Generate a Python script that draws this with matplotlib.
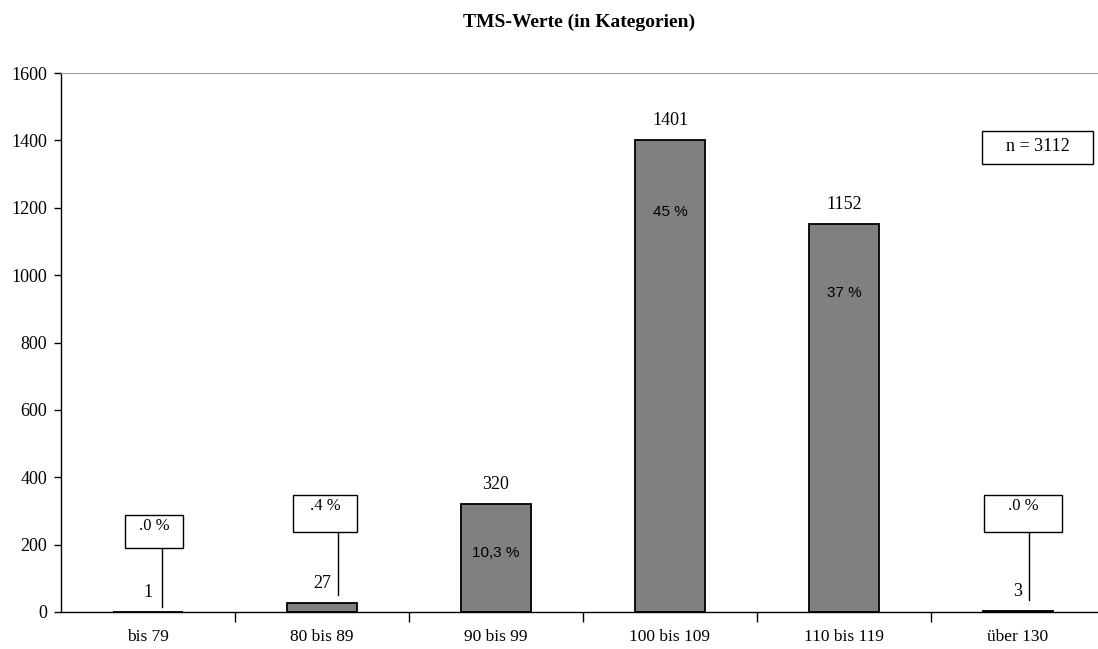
#!/usr/bin/env python3
# TMS-Werte bar chart

import numpy as np
import matplotlib.pyplot as plt
from matplotlib.patches import Rectangle

categories = ["bis 79", "80 bis 89", "90 bis 99", "100 bis 109", "110 bis 119", "über 130"]
counts = [1, 27, 320, 1401, 1152, 3]
pct_labels = [".0 %", ".4 %", "10,3 %", "45 %", "37 %", ".0 %"]
n_total = 3112

plt.rcParams["font.family"] = ["Liberation Serif", "DejaVu Serif"]


def plot(ax):
    x = np.arange(len(categories))
    ax.bar(x, counts, width=0.40, color="#808080", edgecolor="black", linewidth=1.3)

    ax.set_xlim(-0.5, 5.46)
    ax.set_ylim(0, 1600)
    ax.set_yticks(np.arange(0, 1601, 200))
    ax.set_xticks(x)
    ax.set_xticklabels(categories)
    ax.set_xticks(np.arange(0.5, 5.5, 1), minor=True)
    ax.tick_params(axis="x", which="major", length=0, pad=12, labelsize=12.5)
    ax.tick_params(axis="x", which="minor", length=7, width=1, direction="out")
    ax.tick_params(axis="y", length=5, width=1, labelsize=13, pad=5)

    ax.spines["right"].set_visible(False)
    ax.spines["top"].set_color("#a0a0a0")
    ax.spines["left"].set_linewidth(1)
    ax.spines["bottom"].set_linewidth(1)

    # count labels above bars
    for xi, c in zip(x, counts):
        ax.text(xi, c + 58, str(c), ha="center", va="center", fontsize=13)

    # percentage labels inside the big bars
    inside_y = {2: 175, 3: 1187, 4: 947}
    for i, yy in inside_y.items():
        ax.text(x[i], yy, pct_labels[i], ha="center", va="center", fontsize=11,
                family=["Liberation Sans", "DejaVu Sans"])

    # callout boxes for the tiny bars: (index, box x-offset, box width, y0, y1, line x-offset, line bottom)
    callouts = [
        (0, 0.034, 0.333, 190, 288, 0.08, 15),
        (1, 0.02, 0.368, 237, 347, 0.09, 50),
        (5, 0.03, 0.448, 237, 347, 0.065, 36),
    ]
    for i, bx, bw, y0, y1, lx, lb in callouts:
        cx = x[i] + bx
        ax.add_patch(Rectangle((cx - bw / 2, y0), bw, y1 - y0, facecolor="white",
                               edgecolor="black", linewidth=1, zorder=3))
        ax.text(cx, y1 - 8, pct_labels[i], ha="center", va="top", fontsize=12, zorder=4)
        ax.plot([x[i] + lx, x[i] + lx], [lb, y0], color="black", linewidth=1)

    # n box
    ax.add_patch(Rectangle((4.793, 1330), 0.638, 98, facecolor="white",
                           edgecolor="black", linewidth=1, zorder=3))
    ax.text(5.112, 1381, f"n = {n_total}", ha="center", va="center", fontsize=13, zorder=4)

    ax.set_title("TMS-Werte (in Kategorien)", fontsize=14, fontweight="bold", pad=33)


def main():
    fig = plt.figure(figsize=(10.98, 6.49), dpi=100)
    ax = fig.add_axes([61 / 1098, 1 - 612 / 649, 1 - 61 / 1098, (612 - 73) / 649])
    plot(ax)
    fig.savefig("out.png", dpi=100)


if __name__ == "__main__":
    main()
